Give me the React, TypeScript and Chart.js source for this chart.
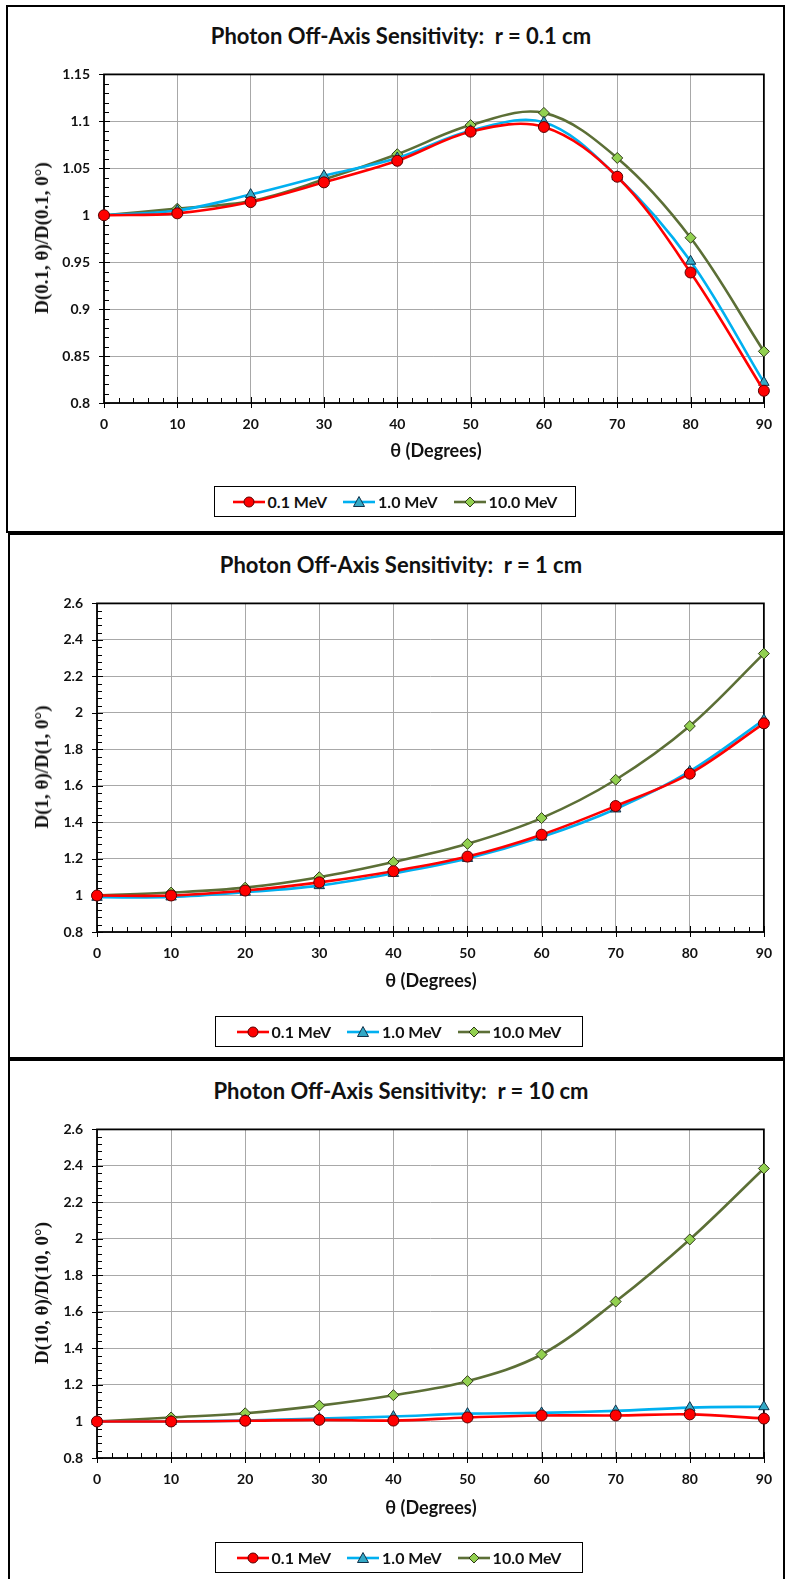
import React, { useEffect, useRef } from 'react';
import { Chart, registerables } from 'chart.js';

Chart.register(...registerables);

// ---------- data ----------
const THETA = [0, 10, 20, 30, 40, 50, 60, 70, 80, 90];
const SERIES_NAMES = ['0.1 MeV', '1.0 MeV', '10.0 MeV'];

// r = 0.1 cm
const R01_E01 = [1.0, 1.002, 1.014, 1.035, 1.058, 1.089, 1.094, 1.041, 0.939, 0.813];
const R01_E1 = [1.0, 1.005, 1.022, 1.042, 1.061, 1.09, 1.099, 1.041, 0.951, 0.822];
const R01_E10 = [1.0, 1.007, 1.015, 1.038, 1.065, 1.096, 1.109, 1.061, 0.976, 0.855];

// r = 1 cm
const R1_E01 = [1.0, 1.0, 1.027, 1.072, 1.133, 1.213, 1.333, 1.49, 1.667, 1.943];
const R1_E1 = [0.99, 0.992, 1.018, 1.054, 1.121, 1.203, 1.32, 1.474, 1.68, 1.962];
const R1_E10 = [1.0, 1.016, 1.043, 1.1, 1.183, 1.283, 1.424, 1.634, 1.928, 2.325];

// r = 10 cm
const R10_E01 = [1.0, 1.0, 1.004, 1.009, 1.005, 1.022, 1.033, 1.033, 1.039, 1.016];
const R10_E1 = [1.0, 1.0, 1.005, 1.016, 1.027, 1.043, 1.047, 1.058, 1.076, 1.081];
const R10_E10 = [1.0, 1.022, 1.045, 1.087, 1.144, 1.221, 1.367, 1.657, 1.997, 2.386];

// tick labels
const X_TICKS = [0, 10, 20, 30, 40, 50, 60, 70, 80, 90];
const Y_TICKS_R01 = [0.8, 0.85, 0.9, 0.95, 1, 1.05, 1.1, 1.15];
const Y_TICKS_WIDE = [0.8, 1, 1.2, 1.4, 1.6, 1.8, 2, 2.2, 2.4, 2.6];

// ---------- styles ----------
const LINE_COLORS = ['#FF0000', '#00B0F0', '#5C6F36'];
const POINT_FILL = ['#FF0000', '#33A9C6', '#92D050'];
const POINT_BORDER = ['#5A0000', '#10304A', '#2F3A18'];
const POINT_STYLE = ['circle', 'triangle', 'rectRot'];
const POINT_RADIUS = [5.5, 6, 5.5];

const FONT = 'Lato, "Open Sans", sans-serif';

type Box = { left: number; right: number; top: number; bottom: number };

type PanelCfg = {
  frame: { left: number; top: number; right: number; bottom: number };
  plot: Box;
  title: string;
  titleY: number;
  yTitle: string;
  yTicks: number[];
  series: number[][];
  axisTitleY: number;
  legend: { left: number; top: number; width: number; height: number };
};

const axesPlugin = {
  id: 'axesFrame',
  beforeDatasetsDraw(chart: any, _args: any, opts: any) {
    const { ctx, chartArea: ca, scales } = chart;
    const x = scales.x;
    const y = scales.y;
    ctx.save();
    ctx.strokeStyle = '#000';
    ctx.lineWidth = 1;
    ctx.beginPath();
    const xs = opts.xTicks as number[];
    const ys = opts.yTicks as number[];
    for (let i = 0; i < xs.length - 1; i++) {
      const a = xs[i];
      const b = xs[i + 1];
      for (let k = 1; k < 5; k++) {
        const px = Math.round(x.getPixelForValue(a + ((b - a) * k) / 5)) + 0.5;
        ctx.moveTo(px, ca.bottom);
        ctx.lineTo(px, ca.bottom - 5);
      }
    }
    for (const v of xs) {
      const px = Math.round(x.getPixelForValue(v)) + 0.5;
      ctx.moveTo(px, ca.bottom + 5);
      ctx.lineTo(px, ca.bottom - 6);
    }
    for (let i = 0; i < ys.length - 1; i++) {
      const a = ys[i];
      const b = ys[i + 1];
      for (let k = 1; k < 5; k++) {
        const py = Math.round(y.getPixelForValue(a + ((b - a) * k) / 5)) + 0.5;
        ctx.moveTo(ca.left, py);
        ctx.lineTo(ca.left + 5, py);
      }
    }
    for (const v of ys) {
      const py = Math.round(y.getPixelForValue(v)) + 0.5;
      ctx.moveTo(ca.left - 5, py);
      ctx.lineTo(ca.left + 6, py);
    }
    ctx.stroke();
    ctx.lineWidth = 1.8;
    ctx.strokeRect(ca.left, ca.top, ca.right - ca.left, ca.bottom - ca.top);
    ctx.restore();
  },
};

function fmt(v: number) {
  return String(Number(v.toFixed(3)));
}

function ChartPanel({ cfg }: { cfg: PanelCfg }) {
  const ref = useRef<HTMLCanvasElement | null>(null);
  const { plot } = cfg;
  const padTop = 20;
  const padBottom = 40;
  const canvasTop = plot.top - padTop;
  const canvasH = plot.bottom - plot.top + padTop + padBottom;
  const W = 785;

  useEffect(() => {
    if (!ref.current) return;
    const chart = new Chart(ref.current, {
      type: 'line',
      data: {
        datasets: cfg.series.map((vals, s) => ({
          label: SERIES_NAMES[s],
          data: THETA.map((t, i) => ({ x: t, y: vals[i] })),
          borderColor: LINE_COLORS[s],
          backgroundColor: POINT_FILL[s],
          pointBackgroundColor: POINT_FILL[s],
          pointBorderColor: POINT_BORDER[s],
          pointBorderWidth: 1,
          pointStyle: POINT_STYLE[s] as any,
          pointRadius: POINT_RADIUS[s],
          borderWidth: 2.6,
          tension: 0.35,
          fill: false,
          clip: false as any,
        })),
      },
      options: {
        animation: false,
        responsive: false,
        events: [],
        layout: {
          padding: { left: 0, top: padTop, right: W - plot.right, bottom: padBottom - 30 },
        },
        plugins: {
          legend: { display: false },
          tooltip: { enabled: false },
          title: { display: false },
          axesFrame: { xTicks: X_TICKS, yTicks: cfg.yTicks },
        } as any,
        scales: {
          x: {
            type: 'linear',
            min: X_TICKS[0],
            max: X_TICKS[X_TICKS.length - 1],
            afterBuildTicks: (s: any) => {
              s.ticks = X_TICKS.map((v) => ({ value: v }));
            },
            afterFit: (s: any) => {
              s.height = 30;
            },
            grid: { color: '#A8A8A8', lineWidth: 1, drawTicks: false },
            border: { display: false },
            ticks: {
              padding: 13,
              color: '#111',
              font: { family: FONT, size: 14, weight: 'bold' },
              callback: (v: any) => fmt(Number(v)),
              maxRotation: 0,
              autoSkip: false,
            },
          },
          y: {
            type: 'linear',
            min: cfg.yTicks[0],
            max: cfg.yTicks[cfg.yTicks.length - 1],
            afterBuildTicks: (s: any) => {
              s.ticks = cfg.yTicks.map((v) => ({ value: v }));
            },
            afterFit: (s: any) => {
              s.width = plot.left;
            },
            grid: { color: '#A8A8A8', lineWidth: 1, drawTicks: false },
            border: { display: false },
            ticks: {
              padding: 14,
              color: '#111',
              font: { family: FONT, size: 14, weight: 'bold' },
              callback: (v: any) => fmt(Number(v)),
              autoSkip: false,
            },
          },
        },
      },
      plugins: [axesPlugin],
    });
    return () => chart.destroy();
  }, []);

  const f = cfg.frame;
  const lg = cfg.legend;
  const plotCenterX = (plot.left + plot.right) / 2;

  return (
    <>
      <div
        style={{
          position: 'absolute',
          left: f.left,
          top: f.top,
          width: f.right - f.left,
          height: f.bottom - f.top,
          border: '2px solid #000',
          boxSizing: 'border-box',
          background: '#fff',
        }}
      />
      <div
        style={{
          position: 'absolute',
          left: 401,
          top: cfg.titleY,
          transform: 'translate(-50%, -50%)',
          whiteSpace: 'pre',
          font: `bold 22px ${FONT}`,
          color: '#111',
        }}
      >
        {cfg.title}
      </div>
      <canvas
        ref={ref}
        width={W}
        height={canvasH}
        style={{ position: 'absolute', left: 0, top: canvasTop, width: W, height: canvasH }}
      />
      <div
        style={{
          position: 'absolute',
          left: 42,
          top: (plot.top + plot.bottom) / 2,
          transform: 'translate(-50%, -50%) rotate(-90deg)',
          whiteSpace: 'pre',
          font: `bold 19px "Liberation Serif", "DejaVu Serif", serif`,
          color: '#111',
        }}
      >
        {cfg.yTitle}
      </div>
      <div
        style={{
          position: 'absolute',
          left: plotCenterX,
          top: cfg.axisTitleY,
          transform: 'translate(-50%, -50%)',
          whiteSpace: 'pre',
          font: `bold 18px ${FONT}`,
          color: '#111',
        }}
      >
        θ (Degrees)
      </div>
      <div
        style={{
          position: 'absolute',
          left: lg.left,
          top: lg.top,
          width: lg.width,
          height: lg.height,
          border: '1.5px solid #000',
          boxSizing: 'border-box',
          display: 'flex',
          alignItems: 'center',
          justifyContent: 'center',
          gap: 16,
          font: `bold 16px ${FONT}`,
          color: '#111',
        }}
      >
        {SERIES_NAMES.map((name, s) => (
          <div key={name} style={{ display: 'flex', alignItems: 'center', gap: 3 }}>
            <svg width={32} height={14} viewBox="0 0 32 14">
              <line x1={0} y1={7} x2={32} y2={7} stroke={LINE_COLORS[s]} strokeWidth={2.6} />
              {s === 0 && <circle cx={16} cy={7} r={5} fill={POINT_FILL[0]} stroke={POINT_BORDER[0]} strokeWidth={1} />}
              {s === 1 && (
                <polygon points="16,1.5 21.5,11.5 10.5,11.5" fill={POINT_FILL[1]} stroke={POINT_BORDER[1]} strokeWidth={1} />
              )}
              {s === 2 && (
                <polygon points="16,2 21,7 16,12 11,7" fill={POINT_FILL[2]} stroke={POINT_BORDER[2]} strokeWidth={1} />
              )}
            </svg>
            <span>{name}</span>
          </div>
        ))}
      </div>
    </>
  );
}

const PANELS: PanelCfg[] = [
  {
    frame: { left: 6, top: 5, right: 785, bottom: 533 },
    plot: { left: 104, right: 768, top: 72, bottom: 403 },
    title: 'Photon Off-Axis Sensitivity:  r = 0.1 cm',
    titleY: 35,
    yTitle: 'D(0.1, θ)/D(0.1, 0°)',
    yTicks: Y_TICKS_R01,
    series: [R01_E01, R01_E1, R01_E10],
    axisTitleY: 450,
    legend: { left: 214, top: 486, width: 362, height: 31 },
  },
  {
    frame: { left: 8, top: 533, right: 785, bottom: 1059 },
    plot: { left: 97, right: 765, top: 601, bottom: 932 },
    title: 'Photon Off-Axis Sensitivity:  r = 1 cm',
    titleY: 564,
    yTitle: 'D(1, θ)/D(1, 0°)',
    yTicks: Y_TICKS_WIDE,
    series: [R1_E01, R1_E1, R1_E10],
    axisTitleY: 980,
    legend: { left: 215, top: 1016, width: 368, height: 31 },
  },
  {
    frame: { left: 8, top: 1059, right: 785, bottom: 1590 },
    plot: { left: 97, right: 765, top: 1127, bottom: 1458 },
    title: 'Photon Off-Axis Sensitivity:  r = 10 cm',
    titleY: 1090,
    yTitle: 'D(10, θ)/D(10, 0°)',
    yTicks: Y_TICKS_WIDE,
    series: [R10_E01, R10_E1, R10_E10],
    axisTitleY: 1507,
    legend: { left: 215, top: 1542, width: 368, height: 31 },
  },
];

export default function App() {
  return (
    <div
      style={{
        position: 'absolute',
        left: 0,
        top: 0,
        width: 785,
        height: 1579,
        overflow: 'hidden',
        background: '#fff',
      }}
    >
      {PANELS.map((p, i) => (
        <ChartPanel key={i} cfg={p} />
      ))}
    </div>
  );
}
